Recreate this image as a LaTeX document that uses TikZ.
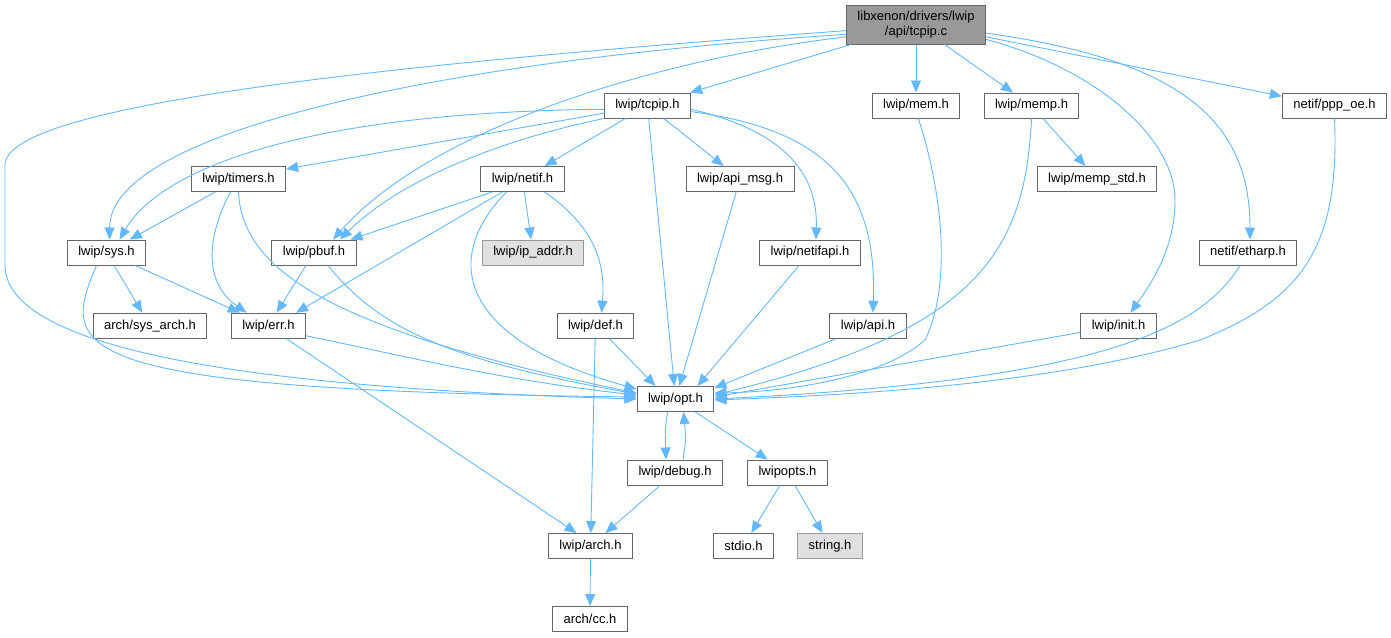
\documentclass[tikz,border=0pt]{standalone}
\usepackage{fontspec}
\setmainfont{Liberation Sans}
\usetikzlibrary{arrows.meta}
\definecolor{edgeblue}{HTML}{63B8FF}
\definecolor{boxline}{HTML}{666666}
\definecolor{rootfill}{HTML}{999999}
\definecolor{ghostfill}{HTML}{E0E0E0}
\definecolor{ghostline}{HTML}{999999}
\begin{document}
\begin{tikzpicture}[x=1pt,y=-1pt,
  hdr/.style={draw=boxline, fill=white, line width=1pt, minimum height=25pt, inner xsep=11pt, inner ysep=0pt, font=\fontsize{13}{15}\selectfont},
  ghost/.style={fill=ghostfill, draw=ghostline},
  inc/.style={draw=edgeblue, line width=0.9pt, -{Triangle[length=12pt,width=10pt]}}]
\useasboundingbox (0,0) rectangle (1391,637);

\node[hdr, fill=rootfill, align=center, minimum height=39pt] (tcpipc) at (916,24.5) {libxenon/drivers/lwip\\/api/tcpip.c};
\node[hdr] (tcpiph) at (647.5,105.5) {lwip/tcpip.h};
\node[hdr] (mem) at (916,105.5) {lwip/mem.h};
\node[hdr] (memp) at (1031.5,105.5) {lwip/memp.h};
\node[hdr] (pppoe) at (1334.5,105.5) {netif/ppp\_oe.h};
\node[hdr] (timers) at (238.5,179) {lwip/timers.h};
\node[hdr] (netif) at (522.5,179) {lwip/netif.h};
\node[hdr] (apimsg) at (740,179) {lwip/api\_msg.h};
\node[hdr] (mempstd) at (1097,179) {lwip/memp\_std.h};
\node[hdr] (sys) at (106.5,252.5) {lwip/sys.h};
\node[hdr] (pbuf) at (314,252.5) {lwip/pbuf.h};
\node[hdr, ghost] (ipaddr) at (533,252.5) {lwip/ip\_addr.h};
\node[hdr] (netifapi) at (810,252.5) {lwip/netifapi.h};
\node[hdr] (etharp) at (1248,252.5) {netif/etharp.h};
\node[hdr] (sysarch) at (150,325.7) {arch/sys\_arch.h};
\node[hdr] (err) at (268.5,325.7) {lwip/err.h};
\node[hdr] (def) at (595.5,325.7) {lwip/def.h};
\node[hdr] (api) at (868,325.7) {lwip/api.h};
\node[hdr] (init) at (1118.5,325.7) {lwip/init.h};
\node[hdr] (opt) at (675.5,399) {lwip/opt.h};
\node[hdr] (debug) at (675,472.5) {lwip/debug.h};
\node[hdr] (lwipopts) at (787.5,472.5) {lwipopts.h};
\node[hdr] (arch) at (590.5,546) {lwip/arch.h};
\node[hdr] (stdio) at (743.5,546) {stdio.h};
\node[hdr, ghost] (string) at (830,546) {string.h};
\node[hdr] (cc) at (590,619) {arch/cc.h};

% tcpip.c
\draw[inc] (tcpipc.-175) .. controls (450,60) and (5,100) .. (5,165) -- (5,265) .. controls (5,330) and (150,385) .. (opt.west);
\draw[inc] (tcpipc.-172) .. controls (450,60) and (110,130) .. ([xshift=3pt]sys.north);
\draw[inc] (tcpipc.-170) .. controls (650,60) and (430,130) .. ([xshift=19pt]pbuf.north);
\draw[inc] ([xshift=5pt]tcpipc.south west) -- ([xshift=-1pt]tcpiph.north east);
\draw[inc] (tcpipc) -- (mem);
\draw[inc] (tcpipc) -- (memp);
\draw[inc] (tcpipc.-12) .. controls (1100,70) and (1175,140) .. (1175,200) .. controls (1175,250) and (1150,285) .. ([xshift=12pt]init.north);
\draw[inc] (tcpipc.-7) .. controls (1180,60) and (1250,120) .. ([xshift=2pt]etharp.north);
\draw[inc] (tcpipc.-10) -- (pppoe.170);

% tcpip.h
\draw[inc] (tcpiph.-175) .. controls (300,112) and (160,170) .. ([xshift=13pt]sys.north);
\draw[inc] (tcpiph.-170) -- ([yshift=-3pt]timers.north east);
\draw[inc] (tcpiph.south west) .. controls (500,140) and (400,180) .. ([xshift=26pt]pbuf.north);
\draw[inc] (tcpiph) -- (netif);
\draw[inc] (tcpiph) -- (opt);
\draw[inc] (tcpiph) -- (apimsg);
\draw[inc] (tcpiph.-5) .. controls (780,130) and (818,170) .. ([xshift=6pt]netifapi.north);
\draw[inc] (tcpiph.-8) .. controls (830,130) and (877,190) .. ([xshift=5pt]api.north);

% timers.h, netif.h
\draw[inc] (timers) -- (sys);
\draw[inc] ([xshift=-8pt]timers.south) .. controls (210,230) and (200,280) .. ([xshift=-22pt]err.north);
\draw[inc] (timers.south) .. controls (242,270) and (330,330) .. ([yshift=6pt]opt.west);
\draw[inc] ([xshift=12pt]netif.south west) -- ([xshift=-6pt]pbuf.north east);
\draw[inc] ([xshift=22pt]netif.south west) -- ([xshift=-10pt]err.north east);
\draw[inc] (netif) -- (ipaddr);
\draw[inc] ([xshift=22pt]netif.south) .. controls (600,230) and (605,270) .. ([xshift=6pt]def.north);
\draw[inc] ([xshift=-16pt]netif.south) .. controls (440,260) and (460,340) .. ([yshift=10pt]opt.west);

% sys.h, pbuf.h, err.h, def.h
\draw[inc] (sys) -- (sysarch);
\draw[inc] (sys) -- (err);
\draw[inc] ([xshift=-10pt]sys.south) .. controls (60,350) and (60,390) .. ([yshift=2pt]opt.west);
\draw[inc] (pbuf) -- (err);
\draw[inc] ([xshift=14pt]pbuf.south) .. controls (380,330) and (450,360) .. ([yshift=5pt]opt.west);
\draw[inc] (err.-15) .. controls (400,355) and (500,380) .. ([yshift=4pt]opt.west);
\draw[inc] ([xshift=18pt]err.south) -- ([xshift=-14pt]arch.north);
\draw[inc] ([xshift=14pt]def.south) -- ([xshift=-20pt]opt.north);
\draw[inc] (def) -- (arch);

% right side into opt.h
\draw[inc] (apimsg) -- (opt);
\draw[inc] (netifapi) -- ([xshift=-17pt]opt.north east);
\draw[inc] (api) -- ([yshift=-2pt]opt.north east);
\draw[inc] (mem.-80) .. controls (945,200) and (950,290) .. (925,340) .. controls (880,380) and (780,392) .. ([yshift=6pt]opt.east);
\draw[inc] (memp.south) .. controls (1025,250) and (980,330) .. ([yshift=4pt]opt.east);
\draw[inc] (memp) -- (mempstd);
\draw[inc] (init) -- ([yshift=2pt]opt.east);
\draw[inc] ([xshift=-8pt]etharp.south) .. controls (1200,330) and (1100,380) .. (opt.east);
\draw[inc] (pppoe.south) .. controls (1340,250) and (1300,300) .. (1200,340) .. controls (1050,385) and (850,395) .. ([yshift=-1pt]opt.east);

% opt.h and below
\draw[inc] ([xshift=-8pt]opt.south) .. controls (665,430) .. ([xshift=-9pt]debug.north);
\draw[inc] ([xshift=8pt]debug.north) .. controls (686,440) .. ([xshift=8pt]opt.south);
\draw[inc] (opt) -- (lwipopts);
\draw[inc] (debug) -- (arch);
\draw[inc] (lwipopts) -- (stdio);
\draw[inc] (lwipopts) -- (string);
\draw[inc] (arch) -- (cc);
\end{tikzpicture}
\end{document}
